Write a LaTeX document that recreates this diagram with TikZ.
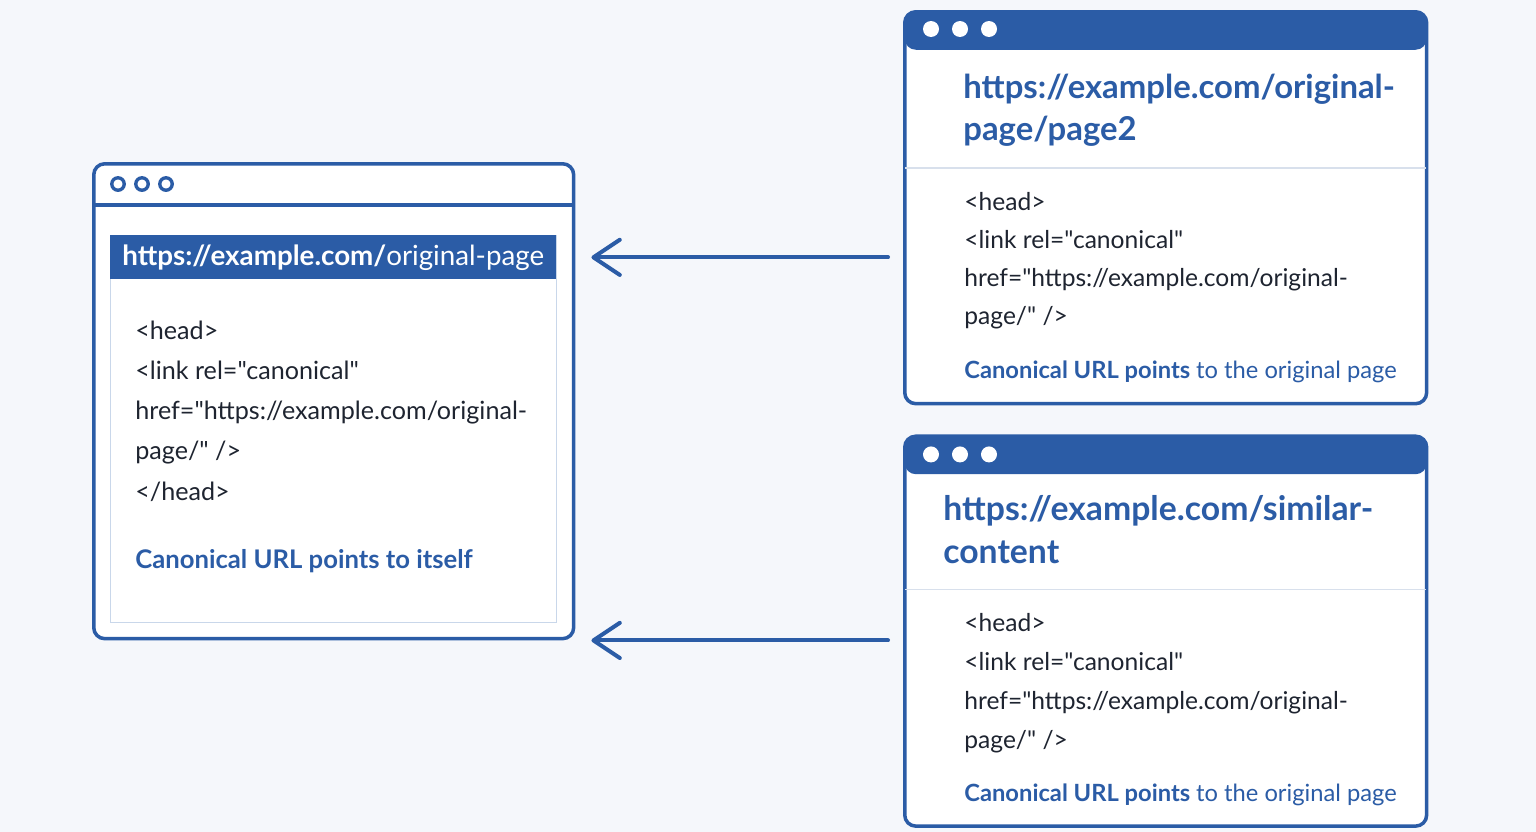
\documentclass[tikz,border=0pt]{standalone}
\usepackage{fontspec}
\setmainfont{Lato}[Ligatures=TeXOff]
\usepackage{xcolor}
\usetikzlibrary{positioning, calc, arrows.meta}
\definecolor{winblue}{HTML}{2B5CA6}
\definecolor{bgcol}{HTML}{F5F7FB}
\definecolor{panelline}{HTML}{C9D7EA}
\definecolor{sepline}{HTML}{D8E0EC}
\definecolor{codegray}{HTML}{1E2430}
\tikzstyle{window} = [rectangle, rounded corners=0.22cm, draw=winblue, line width=2pt, fill=white, anchor=north west, inner sep=0pt]
\tikzstyle{headbar} = [path picture={\fill[winblue] (path picture bounding box.north west) rectangle ([yshift=-0.76cm]path picture bounding box.north east);}]
\tikzstyle{panel} = [rectangle, draw=panelline, line width=0.7pt, fill=white, anchor=north west, inner sep=0pt]
\tikzstyle{urlbar} = [rectangle, fill=winblue, text=white, anchor=north west, inner sep=0pt, font={\fontsize{15.8}{18}\selectfont}]
\tikzstyle{title} = [anchor=base west, align=left, inner sep=0pt, text=winblue, font={\fontsize{18.7}{23.8}\selectfont\bfseries}]
\tikzstyle{code} = [anchor=base west, align=left, inner sep=0pt, text=codegray, font={\fontsize{14}{22}\selectfont}]
\tikzstyle{note} = [anchor=base west, inner sep=0pt, text=winblue, font={\fontsize{13.5}{17}\selectfont}]
\tikzstyle{sep} = [draw=sepline, line width=0.9pt]
\tikzstyle{arrow} = [draw=winblue, line width=2.3pt, line cap=round, -{Straight Barb[length=15pt, width=20pt, round]}, shorten <=0.3cm, shorten >=0.32cm]

\begin{document}
\begin{tikzpicture}[x=0.02cm, y=-0.02cm]

\fill[bgcol] (0,0) rectangle (1536,832);

% Left window (canonical page)
\node (leftwin) [window, minimum width=9.6cm, minimum height=9.5cm] at (92,162) {};
\draw[winblue, line width=2pt] ($(leftwin.north west)+(0,43)$) -- ($(leftwin.north east)+(0,43)$);
\foreach \i in {0,1,2}
  \draw[winblue, line width=1.9pt] ($(leftwin.north west)+(26+24*\i,22)$) circle[radius=0.125cm];
\node (leftpanel) [panel, minimum width=8.92cm, minimum height=7.74cm] at (110,235) {};
\node (leftbar) [urlbar, minimum width=8.92cm, minimum height=0.88cm] at (110,235) {{\bfseries https://example.com/}original-page};
\node (leftcode) [code, font={\fontsize{14.3}{22.8}\selectfont}] at (135,500) {<head>\\<link rel="canonical"\\href="https://example.com/original-\\page/" />\\</head>};
\node (leftnote) [note, font={\fontsize{14.6}{17}\selectfont\bfseries}] at (135,568) {Canonical URL points to itself};

% Top right window (page 2)
\node (topwin) [window, headbar, minimum width=10.44cm, minimum height=7.84cm] at (903,10) {};
\foreach \i in {0,1,2}
  \fill[white] ($(topwin.north west)+(28+29*\i,19)$) circle[radius=0.16cm];
\node (toptitle) [title] at (963,140) {https://example.com/original-\\page/page2};
\draw[sep] ($(topwin.north west)+(2,158)$) -- ($(topwin.north east)+(-2,158)$);
\node (topcode) [code, font={\fontsize{14}{21.5}\selectfont}] at (964,324) {<head>\\<link rel="canonical"\\href="https://example.com/original-\\page/" />};
\node (topnote) [note] at (964,378) {{\bfseries Canonical URL points} to the original page};

% Bottom right window (similar content)
\node (botwin) [window, headbar, minimum width=10.44cm, minimum height=7.8cm, below=0.58cm of topwin.south west, anchor=north west] {};
\foreach \i in {0,1,2}
  \fill[white] ($(botwin.north west)+(28+29*\i,20)$) circle[radius=0.16cm];
\node (bottitle) [title, font={\fontsize{19.2}{24.4}\selectfont\bfseries}] at (943,563) {https://example.com/similar-\\content};
\draw[sep] ($(botwin.north west)+(2,155)$) -- ($(botwin.north east)+(-2,155)$);
\node (botcode) [code, font={\fontsize{14}{22.1}\selectfont}] at (964,748) {<head>\\<link rel="canonical"\\href="https://example.com/original-\\page/" />};
\node (botnote) [note] at (964,801) {{\bfseries Canonical URL points} to the original page};

% Connections
\draw[arrow] (topwin.west |- leftbar.east) -- (leftwin.east |- leftbar.east);
\draw[arrow] (botwin.west |- leftwin.south) -- (leftwin.south east);

\end{tikzpicture}
\end{document}
